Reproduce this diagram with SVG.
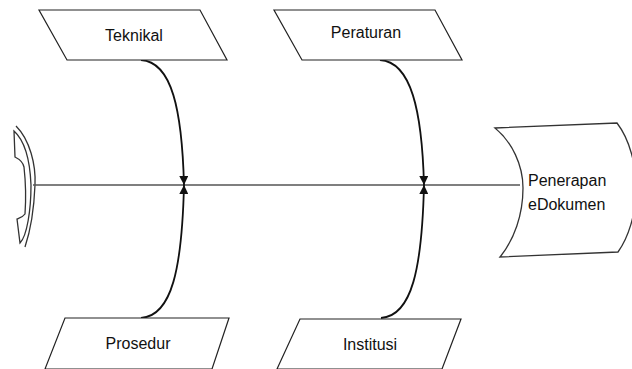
<svg xmlns="http://www.w3.org/2000/svg" width="632" height="369" viewBox="0 0 632 369">
<style>
.box{fill:#fff;stroke:#222;stroke-width:1.2}
.lbl{font-family:"Liberation Sans",Arial,sans-serif;font-size:16px;fill:#111}
.spine{stroke:#555;stroke-width:1.5;fill:none}
.bone{stroke:#111;stroke-width:1.8;fill:none}
.shape{fill:#fff;stroke:#333;stroke-width:1.3}
</style>
<defs>
<marker id="arr" viewBox="0 0 10 10" refX="10" refY="5" markerWidth="5" markerHeight="5" orient="auto-start-reverse" markerUnits="strokeWidth">
<path d="M0,0 L10,5 L0,10 Z" fill="#111"/>
</marker>
</defs>
<g id="tail">
<path class="shape" d="M16,126 C30,140 36,165 35,185 C34,210 30,232 25,247" fill="none"/>
<path class="shape" d="M14,131 L15,157 C19,159 23,162 24,167 C26,185 26,200 25,214 C23,217 19,218 17,219 L20,243 C27,236 31,210 31,185 C30,160 24,140 14,131 Z"/>
</g>
<g id="connectors">
<line class="spine" x1="33" y1="185" x2="520" y2="185"/>
<path class="bone" d="M141,60 C172,62 182,110 184,185" marker-end="url(#arr)"/>
<path class="bone" d="M141,318 C172,316 182,268 184,185" marker-end="url(#arr)"/>
<path class="bone" d="M380,60 C411,62 422,110 424,185" marker-end="url(#arr)"/>
<path class="bone" d="M381,318 C412,316 422,268 424,185" marker-end="url(#arr)"/>
</g>
<g id="head">
<path class="shape" d="M495,128 L617,123 C630,140 636,165 636,188 C636,215 628,238 618,252 L500,257 C514,240 523,215 523,188 C523,165 512,142 495,128 Z"/>
<text class="lbl" x="528" y="186">Penerapan</text>
<text class="lbl" x="528" y="210">eDokumen</text>
</g>
<g id="teknikal">
<polygon class="box" points="39,10 200,10 227,60 67,60"/>
<text class="lbl" x="134" y="41" text-anchor="middle">Teknikal</text>
</g>
<g id="peraturan">
<polygon class="box" points="274,10 435,10 462,60 302,60"/>
<text class="lbl" x="366" y="38" text-anchor="middle">Peraturan</text>
</g>
<g id="prosedur">
<polygon class="box" points="65,318 229,318 212,369 45,369"/>
<text class="lbl" x="138" y="349" text-anchor="middle">Prosedur</text>
</g>
<g id="institusi">
<polygon class="box" points="300,319 461,319 442,369 277,369"/>
<text class="lbl" x="370" y="350" text-anchor="middle">Institusi</text>
</g>
</svg>
